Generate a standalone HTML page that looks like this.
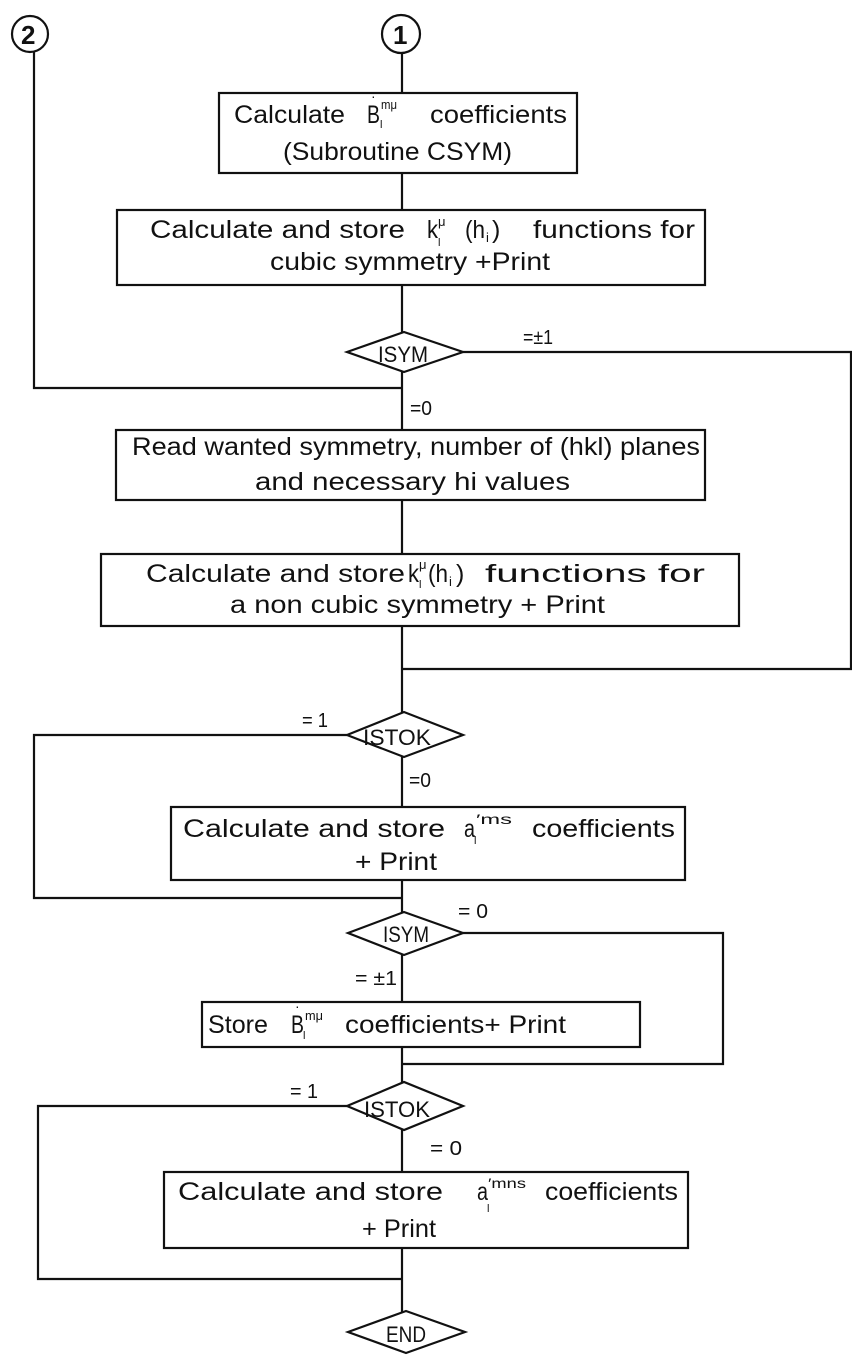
<!DOCTYPE html>
<html><head><meta charset="utf-8"><style>
html,body{margin:0;padding:0;background:#fff;}
svg{display:block;}
text{font-family:"Liberation Sans",sans-serif;fill:#111;}
</style></head><body>
<svg width="852" height="1365" viewBox="0 0 852 1365" xmlns="http://www.w3.org/2000/svg">
<g fill="none" stroke="#111" stroke-width="2.2">
<circle cx="30" cy="34" r="18"/>
<circle cx="401" cy="34" r="19"/>
<line x1="402" y1="53" x2="402" y2="1312"/>
<polyline points="34,52 34,388 402,388"/>
<polyline points="463,352 851,352 851,669 402,669"/>
<polyline points="347,735 34,735 34,898 402,898"/>
<polyline points="463,933 723,933 723,1064 402,1064"/>
<polyline points="347,1106 38,1106 38,1279 402,1279"/>
<rect x="219" y="93" width="358" height="80" fill="#fff"/>
<rect x="117" y="210" width="588" height="75" fill="#fff"/>
<rect x="116" y="430" width="589" height="70" fill="#fff"/>
<rect x="101" y="554" width="638" height="72" fill="#fff"/>
<rect x="171" y="807" width="514" height="73" fill="#fff"/>
<rect x="202" y="1002" width="438" height="45" fill="#fff"/>
<rect x="164" y="1172" width="524" height="76" fill="#fff"/>
<polygon points="347,352 404,332 463,352 404,372" fill="#fff"/>
<polygon points="347,735 404,712 463,735 404,757" fill="#fff"/>
<polygon points="348,933 404,912 463,933 404,955" fill="#fff"/>
<polygon points="347,1106 404,1082 463,1106 404,1130" fill="#fff"/>
<polygon points="348,1332 406,1311 465,1332 406,1353" fill="#fff"/>
</g>
<g font-size="25">
<text x="21" y="44" font-size="26" font-weight="bold">2</text>
<text x="393" y="44" font-size="26" font-weight="bold">1</text>

<text x="234" y="123" textLength="111" lengthAdjust="spacingAndGlyphs">Calculate</text>
<text x="367" y="123" textLength="13" lengthAdjust="spacingAndGlyphs">B</text>
<text x="371" y="101" font-size="14">·</text>
<text x="381" y="109" font-size="13" textLength="16" lengthAdjust="spacingAndGlyphs">mμ</text>
<text x="380" y="128" font-size="11">l</text>
<text x="430" y="123" textLength="137" lengthAdjust="spacingAndGlyphs">coefficients</text>
<text x="283" y="160" textLength="229" lengthAdjust="spacingAndGlyphs">(Subroutine CSYM)</text>

<text x="150" y="238" textLength="255" lengthAdjust="spacingAndGlyphs">Calculate and store</text>
<text x="427" y="238" textLength="11" lengthAdjust="spacingAndGlyphs">k</text>
<text x="438" y="226" font-size="13">μ</text>
<text x="438" y="246" font-size="11">l</text>
<text x="465" y="238" textLength="20" lengthAdjust="spacingAndGlyphs">(h</text>
<text x="486" y="242" font-size="13">i</text>
<text x="492" y="238">)</text>
<text x="533" y="238" textLength="162" lengthAdjust="spacingAndGlyphs">functions for</text>
<text x="270" y="270" textLength="280" lengthAdjust="spacingAndGlyphs">cubic symmetry +Print</text>

<text x="132" y="455" textLength="568" lengthAdjust="spacingAndGlyphs">Read wanted symmetry,  number of (hkl) planes</text>
<text x="255" y="490" textLength="315" lengthAdjust="spacingAndGlyphs">and necessary hi values</text>

<text x="146" y="582" textLength="259" lengthAdjust="spacingAndGlyphs">Calculate and store</text>
<text x="408" y="582" textLength="11" lengthAdjust="spacingAndGlyphs">k</text>
<text x="419" y="569" font-size="13">μ</text>
<text x="419" y="588" font-size="11">l</text>
<text x="428" y="582" textLength="20" lengthAdjust="spacingAndGlyphs">(h</text>
<text x="449" y="586" font-size="13">i</text>
<text x="456" y="582">)</text>
<text x="485" y="582" textLength="220" lengthAdjust="spacingAndGlyphs">functions  for</text>
<text x="230" y="613" textLength="375" lengthAdjust="spacingAndGlyphs">a non cubic symmetry + Print</text>

<text x="378" y="362" font-size="22" textLength="50" lengthAdjust="spacingAndGlyphs">ISYM</text>
<text x="523" y="344" font-size="20" textLength="30" lengthAdjust="spacingAndGlyphs">=±1</text>
<text x="410" y="415" font-size="20" textLength="22" lengthAdjust="spacingAndGlyphs">=0</text>
<text x="363" y="745" font-size="22" textLength="68" lengthAdjust="spacingAndGlyphs">ISTOK</text>
<text x="302" y="727" font-size="20" textLength="26" lengthAdjust="spacingAndGlyphs">= 1</text>
<text x="409" y="787" font-size="20" textLength="22" lengthAdjust="spacingAndGlyphs">=0</text>

<text x="183" y="837" textLength="262" lengthAdjust="spacingAndGlyphs">Calculate  and  store</text>
<text x="464" y="837" textLength="11" lengthAdjust="spacingAndGlyphs">a</text>
<text x="476" y="824" font-size="14" textLength="36" lengthAdjust="spacingAndGlyphs">′ms</text>
<text x="474" y="844" font-size="11">l</text>
<text x="532" y="837" textLength="143" lengthAdjust="spacingAndGlyphs">coefficients</text>
<text x="355" y="870" textLength="82" lengthAdjust="spacingAndGlyphs">+ Print</text>

<text x="383" y="942" font-size="22" textLength="46" lengthAdjust="spacingAndGlyphs">ISYM</text>
<text x="458" y="918" font-size="20" textLength="30" lengthAdjust="spacingAndGlyphs">= 0</text>
<text x="355" y="985" font-size="20" textLength="42" lengthAdjust="spacingAndGlyphs">= ±1</text>

<text x="208" y="1033" textLength="60" lengthAdjust="spacingAndGlyphs">Store</text>
<text x="291" y="1033" textLength="13" lengthAdjust="spacingAndGlyphs">B</text>
<text x="295" y="1011" font-size="14">·</text>
<text x="305" y="1020" font-size="13" textLength="18" lengthAdjust="spacingAndGlyphs">mμ</text>
<text x="303" y="1039" font-size="11">l</text>
<text x="345" y="1033" textLength="221" lengthAdjust="spacingAndGlyphs">coefficients+ Print</text>

<text x="364" y="1117" font-size="22" textLength="66" lengthAdjust="spacingAndGlyphs">ISTOK</text>
<text x="290" y="1098" font-size="20" textLength="28" lengthAdjust="spacingAndGlyphs">= 1</text>
<text x="430" y="1155" font-size="20" textLength="32" lengthAdjust="spacingAndGlyphs">= 0</text>

<text x="178" y="1200" textLength="265" lengthAdjust="spacingAndGlyphs">Calculate  and  store</text>
<text x="477" y="1200" textLength="11" lengthAdjust="spacingAndGlyphs">a</text>
<text x="488" y="1188" font-size="14" textLength="38" lengthAdjust="spacingAndGlyphs">′mns</text>
<text x="487" y="1212" font-size="11">l</text>
<text x="545" y="1200" textLength="133" lengthAdjust="spacingAndGlyphs">coefficients</text>
<text x="362" y="1237" textLength="74" lengthAdjust="spacingAndGlyphs">+ Print</text>

<text x="386" y="1342" font-size="22" textLength="40" lengthAdjust="spacingAndGlyphs">END</text>
</g>
</svg>
</body></html>
